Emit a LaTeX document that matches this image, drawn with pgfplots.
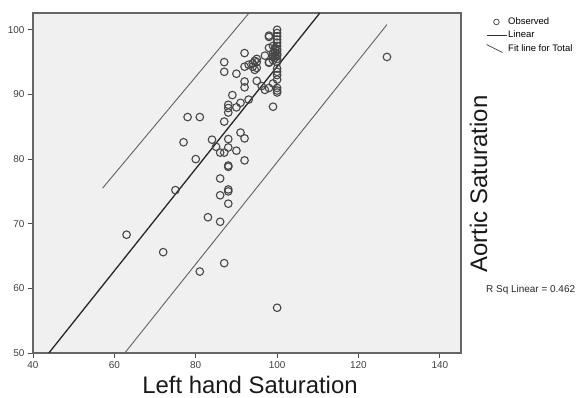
\documentclass[border=0pt]{standalone}
\usepackage{fontspec}
\setmainfont{Liberation Sans}
\usepackage{pgfplots}
\pgfplotsset{compat=1.18}
\begin{document}
\begin{tikzpicture}
\useasboundingbox (0,0) rectangle (582bp,398bp);
\begin{axis}[
  at={(33bp,45bp)}, anchor=south west,
  scale only axis, width=428bp, height=340bp,
  xmin=40, xmax=145.2, ymin=50, ymax=102.6,
  xtick={40,60,...,140}, ytick={50,60,...,100},
  xtick pos=bottom, ytick pos=left,
  tick align=outside, major tick length=5bp,
  axis background/.style={fill=black!6},
  axis line style={draw=black!60, line width=1.1pt},
  tick style={black!70, line width=0.8pt},
  ticklabel style={font=\fontsize{10}{11}\selectfont, text=black!75},
  /pgf/number format/assume math mode=true,
  legend style={at={(1.058,0.99)}, anchor=north west, draw=none, fill=none,
    font=\fontsize{9.5}{10}\selectfont, inner sep=0pt, row sep=2.5bp,
    nodes={inner sep=1.2bp}},
  legend cell align=left,
]
\addplot[only marks, mark=o, mark size=3.8bp, mark options={draw=black!72, line width=1.1pt},
  legend image code/.code={\draw[black!70, line width=0.8pt] (0.35cm,0cm) circle (2.8bp);}]
coordinates {
(100,100)(100,99.5)(100,99)(100,98.5)(100,98)(100,97.5)(100,97)(100,96.7)(100,96.3)(100,96)(100,95.5)(100,95)(100,94)(100,93.5)(100,93)(100,92.3)(100,91)(100,90.6)(100,90.3)(100,57)
(99.5,97.2)(99.5,96.5)(99.5,96)(99.5,95.7)(99,97.5)(99,96.4)(99,95.9)(99,95.3)(99,91.7)(99,88.1)
(98,99.1)(98,98.9)(98,97.2)(98,95)(98,94.9)(98,91)
(97,96)(97,90.7)(96.2,91.3)
(95,95.5)(95,95)(95,94.1)(95,92.1)(94.5,95.2)(94.5,93.8)(94,94.8)(94,94.3)(93,94.6)(93,89.2)
(92,96.4)(92,94.3)(92,92)(92,91.1)(92,83.2)(92,79.8)
(91,88.7)(91,84.1)
(90,93.2)(90,88)(90,81.3)(89,89.9)
(88,88.4)(88,87.9)(88,87.2)(88,83.1)(88,81.8)(88,79)(88,78.8)(88,75.3)(88,75)(88,73.1)
(87,95)(87,93.5)(87,85.8)(87,81)(87,63.9)
(86,81)(86,77)(86,74.4)(86,70.3)(85,81.9)(84,83)(83,71)(81,86.5)(81,62.6)(80,80)(78,86.5)(77,82.6)(75,75.2)(72,65.6)(63,68.3)(127,95.8)
};
\addlegendentry{Observed}
\addplot[black!85, line width=1.3pt,
  legend image code/.code={\draw[black!80, line width=1pt] (0bp,0bp)--(20bp,0bp);}]
coordinates {(43.9,50)(110.5,102.6)};
\addlegendentry{Linear}
\addplot[black!62, line width=0.9pt,
  legend image code/.code={\draw[black!70, line width=0.8pt] (0bp,4bp)--(16bp,-4bp);}]
coordinates {(57.1,75.5)(93.1,102.6)};
\addlegendentry{Fit line for Total}
\addplot[black!62, line width=0.9pt, forget plot]
coordinates {(62.55,50)(127,100.8)};
\end{axis}
\node[anchor=base, font=\fontsize{24}{24}\selectfont, text=black!90] at (250bp,5bp) {Left hand Saturation};
\node[anchor=base, rotate=90, font=\fontsize{24}{24}\selectfont, text=black!90] at (487bp,214bp) {Aortic Saturation};
\node[anchor=west, font=\fontsize{10}{10}\selectfont, text=black!85, inner sep=0pt] at (486bp,108bp) {R Sq Linear = 0.462};
\end{tikzpicture}
\end{document}
